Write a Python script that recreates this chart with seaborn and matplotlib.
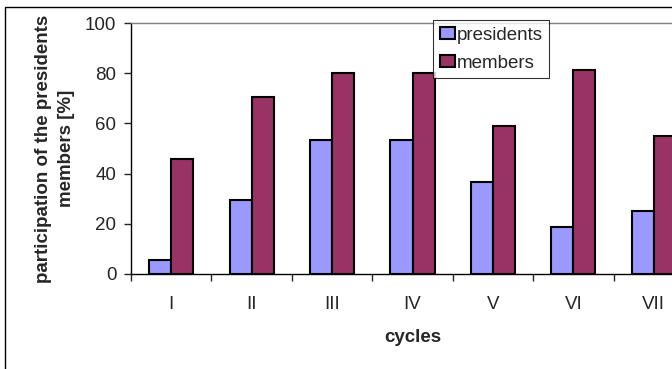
import matplotlib
matplotlib.use("Agg")
import matplotlib.pyplot as plt
from matplotlib.patches import Rectangle
from matplotlib.ticker import FixedLocator
import seaborn as sns
import pandas as pd
import numpy as np

cycles = ["I", "II", "III", "IV", "V", "VI", "VII"]
presidents = [5.6, 29.3, 53.3, 53.3, 36.5, 18.7, 25.1]
members = [45.7, 70.6, 80.0, 80.0, 58.8, 81.1, 54.8]
series = ["presidents", "members"]
colors = ["#9999FF", "#993366"]

df = pd.DataFrame({
    "cycle": cycles * 2,
    "value": presidents + members,
    "series": [series[0]] * len(cycles) + [series[1]] * len(cycles),
})

sns.set_style("white")
plt.rcParams["font.family"] = ["Liberation Sans", "DejaVu Sans"]

FS = 13.5
fig = plt.figure(figsize=(6.72, 3.69), dpi=100)
ax = fig.add_axes([131/672, 1-274/369, (694-131)/672, (274-23)/369])

sns.barplot(data=df, x="cycle", y="value", hue="series", order=cycles,
            hue_order=series, palette=colors, width=0.55, gap=0,
            edgecolor="black", linewidth=1.5, saturation=1, ax=ax)

ax.set_ylim(0, 100)
ax.set_xlim(-0.5, len(cycles) - 0.5)
ax.set_yticks([0, 20, 40, 60, 80, 100])
ax.tick_params(axis="y", labelsize=FS, length=5, width=1, pad=5.5, direction="out", left=True)
ax.tick_params(axis="x", which="major", labelsize=FS, length=0, pad=15.5)
ax.xaxis.set_minor_locator(FixedLocator(np.arange(-0.5, len(cycles), 1.0)))
ax.tick_params(axis="x", which="minor", length=5, width=1, direction="out", bottom=True)

for s in ["left", "bottom"]:
    ax.spines[s].set_color("black")
    ax.spines[s].set_linewidth(1)
ax.spines["right"].set_visible(False)
ax.spines["top"].set_color("#808080")
ax.spines["top"].set_linewidth(1)

ax.set_xlabel("cycles", fontsize=FS, fontweight="bold", labelpad=11.5)
ax.set_ylabel("participation of the presidents\nmembers [%]", fontsize=FS,
              fontweight="bold", labelpad=7, linespacing=1.45)

leg = ax.legend(loc="upper left", bbox_to_anchor=(433/672, 1-20/369),
                bbox_transform=fig.transFigure, fontsize=FS, frameon=True,
                fancybox=False, edgecolor="black", handlelength=0.8,
                handleheight=0.64, handletextpad=0.12, borderpad=0.35,
                labelspacing=0.6, borderaxespad=0)
leg.get_frame().set_linewidth(0.8)

fig.patches.append(Rectangle((5/672, -0.1), 1.2, 1.1 - 7/369, transform=fig.transFigure,
                             fill=False, edgecolor="black", linewidth=1))

fig.savefig("out.png", dpi=100)
